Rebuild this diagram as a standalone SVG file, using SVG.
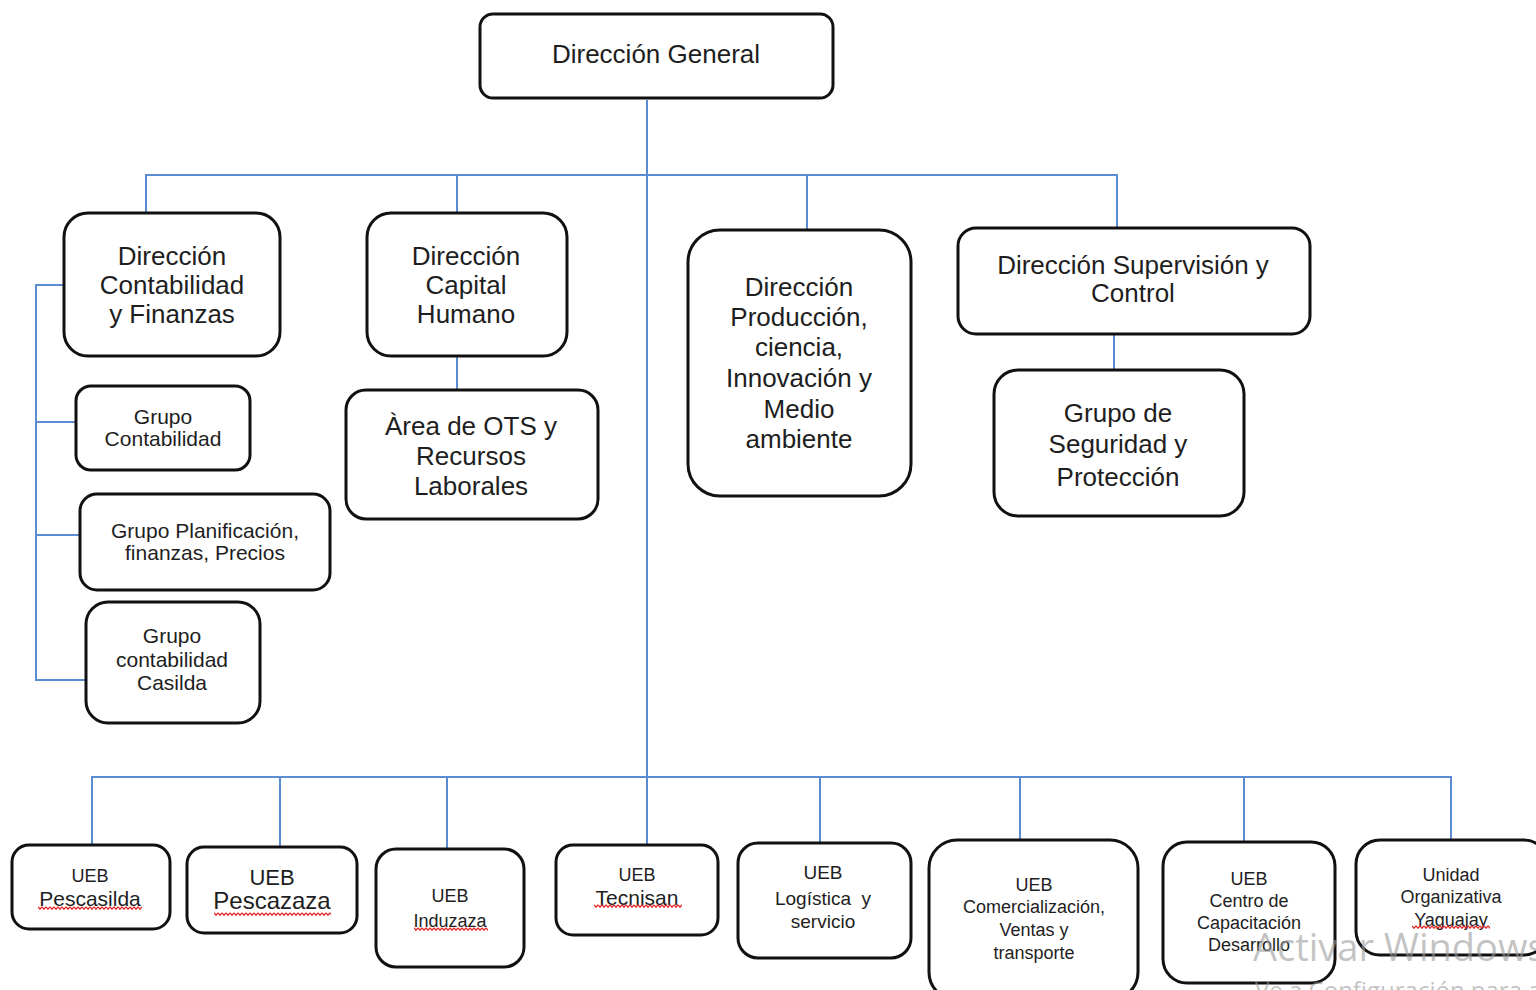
<svg xmlns="http://www.w3.org/2000/svg" width="1536" height="990" viewBox="0 0 1536 990">
  <style>
    .box { fill: #ffffff; stroke: #111111; stroke-width: 3; }
    .link { fill: none; stroke: #5b8bd0; stroke-width: 2; }
    text { font-family: "Liberation Sans", Arial, sans-serif; fill: #1e1e1e; text-anchor: middle; }
    .t26 { font-size: 26px; }
    .t21 { font-size: 21px; }
    .t18 { font-size: 18px; }
    .wm { font-family: "Open Sans", "Noto Sans", sans-serif; fill: #9a9a9a; fill-opacity: 0.6; text-anchor: start; }
  </style>
  <defs>
    <!-- spell-check wavy underline -->
    <pattern id="squiggle" width="4" height="4" patternUnits="userSpaceOnUse">
      <path d="M0 0.8 L2 3.2 L4 0.8" fill="none" stroke="#e02020" stroke-width="1.3"/>
    </pattern>
  </defs>

  <rect width="1536" height="990" fill="#ffffff"/>

  <!-- connectors -->
  <g id="connectors" class="link">
    <path d="M647 100 V845"/>
    <path d="M146 212 V175 H1117 V228"/>
    <path d="M457 175 V213"/>
    <path d="M807 175 V230"/>
    <path d="M457 357 V390"/>
    <path d="M1114 335 V370"/>
    <path d="M64 285 H36 V680 H86"/>
    <path d="M36 422 H76"/>
    <path d="M36 535 H80"/>
    <path d="M92 845 V777 H1451 V840"/>
    <path d="M280 777 V847"/>
    <path d="M447 777 V849"/>
    <path d="M820 777 V843"/>
    <path d="M1020 777 V840"/>
    <path d="M1244 777 V842"/>
  </g>

  <g id="direccion-general">
    <rect class="box" x="480" y="14" width="353" height="84" rx="13"/>
    <text class="t26" x="656" y="63">Dirección General</text>
  </g>

  <g id="dir-contabilidad">
    <rect class="box" x="64" y="213" width="216" height="143" rx="24"/>
    <text class="t26" x="172" y="265">Dirección</text>
    <text class="t26" x="172" y="294">Contabilidad</text>
    <text class="t26" x="172" y="323">y Finanzas</text>
  </g>

  <g id="grupo-contabilidad">
    <rect class="box" x="76" y="386" width="174" height="84" rx="15"/>
    <text class="t21" x="163" y="424">Grupo</text>
    <text class="t21" x="163" y="446">Contabilidad</text>
  </g>

  <g id="grupo-planificacion">
    <rect class="box" x="80" y="494" width="250" height="96" rx="17"/>
    <text class="t21" x="205" y="538">Grupo Planificación,</text>
    <text class="t21" x="205" y="560">finanzas, Precios</text>
  </g>

  <g id="grupo-casilda">
    <rect class="box" x="86" y="602" width="174" height="121" rx="22"/>
    <text class="t21" x="172" y="643">Grupo</text>
    <text class="t21" x="172" y="667">contabilidad</text>
    <text class="t21" x="172" y="690">Casilda</text>
  </g>

  <g id="dir-capital-humano">
    <rect class="box" x="367" y="213" width="200" height="143" rx="24"/>
    <text class="t26" x="466" y="265">Dirección</text>
    <text class="t26" x="466" y="294">Capital</text>
    <text class="t26" x="466" y="323">Humano</text>
  </g>

  <g id="area-ots">
    <rect class="box" x="346" y="390" width="252" height="129" rx="20"/>
    <text class="t26" x="471" y="435">Àrea de OTS y</text>
    <text class="t26" x="471" y="465">Recursos</text>
    <text class="t26" x="471" y="495">Laborales</text>
  </g>

  <g id="dir-produccion">
    <rect class="box" x="688" y="230" width="223" height="266" rx="32"/>
    <text class="t26" x="799" y="296">Dirección</text>
    <text class="t26" x="799" y="326">Producción,</text>
    <text class="t26" x="799" y="356">ciencia,</text>
    <text class="t26" x="799" y="387">Innovación y</text>
    <text class="t26" x="799" y="418">Medio</text>
    <text class="t26" x="799" y="448">ambiente</text>
  </g>

  <g id="dir-supervision">
    <rect class="box" x="958" y="228" width="352" height="106" rx="18"/>
    <text class="t26" x="1133" y="274">Dirección Supervisión y</text>
    <text class="t26" x="1133" y="302">Control</text>
  </g>

  <g id="grupo-seguridad">
    <rect class="box" x="994" y="370" width="250" height="146" rx="24"/>
    <text class="t26" x="1118" y="422">Grupo de</text>
    <text class="t26" x="1118" y="453">Seguridad y</text>
    <text class="t26" x="1118" y="486">Protección</text>
  </g>

  <!-- business units -->
  <g id="ueb-pescasilda">
    <rect class="box" x="12" y="845" width="158" height="84" rx="17"/>
    <text class="t18" x="90" y="882">UEB</text>
    <text class="t21" x="90" y="906">Pescasilda</text>
    <g transform="translate(38,906)"><rect width="104" height="4" fill="url(#squiggle)"/></g>
  </g>

  <g id="ueb-pescazaza">
    <rect class="box" x="187" y="847" width="170" height="86" rx="17"/>
    <text x="272" y="885" style="font-size:22px">UEB</text>
    <text x="272" y="909" style="font-size:24px">Pescazaza</text>
    <g transform="translate(214,912)"><rect width="117" height="4" fill="url(#squiggle)"/></g>
  </g>

  <g id="ueb-induzaza">
    <rect class="box" x="376" y="849" width="148" height="118" rx="20"/>
    <text class="t18" x="450" y="902">UEB</text>
    <text class="t18" x="450" y="927">Induzaza</text>
    <g transform="translate(414,927)"><rect width="74" height="4" fill="url(#squiggle)"/></g>
  </g>

  <g id="ueb-tecnisan">
    <rect class="box" x="556" y="845" width="162" height="90" rx="17"/>
    <text class="t18" x="637" y="881">UEB</text>
    <text class="t21" x="637" y="905">Tecnisan</text>
    <g transform="translate(594,904)"><rect width="88" height="4" fill="url(#squiggle)"/></g>
  </g>

  <g id="ueb-logistica">
    <rect class="box" x="738" y="843" width="173" height="115" rx="20"/>
    <text x="823" y="879" style="font-size:19px">UEB</text>
    <text x="823" y="905" style="font-size:19px; white-space:pre">Logística  y</text>
    <text x="823" y="928" style="font-size:19px">servicio</text>
  </g>

  <g id="ueb-comercializacion">
    <rect class="box" x="929" y="840" width="209" height="160" rx="28"/>
    <text class="t18" x="1034" y="891">UEB</text>
    <text class="t18" x="1034" y="913">Comercialización,</text>
    <text class="t18" x="1034" y="936">Ventas y</text>
    <text class="t18" x="1034" y="959">transporte</text>
  </g>

  <g id="ueb-centro-capacitacion">
    <rect class="box" x="1163" y="842" width="172" height="141" rx="24"/>
    <text class="t18" x="1249" y="885">UEB</text>
    <text class="t18" x="1249" y="907">Centro de</text>
    <text class="t18" x="1249" y="929">Capacitación</text>
    <text class="t18" x="1249" y="951">Desarrollo</text>
  </g>

  <g id="unidad-yaguajay">
    <rect class="box" x="1356" y="840" width="192" height="115" rx="24"/>
    <text class="t18" x="1451" y="881">Unidad</text>
    <text class="t18" x="1451" y="903">Organizativa</text>
    <text class="t18" x="1451" y="926">Yaguajay</text>
    <g transform="translate(1412,925)"><rect width="78" height="4" fill="url(#squiggle)"/></g>
  </g>

  <!-- system activation notice -->
  <text class="wm" x="1253" y="961" style="font-size:38px">Activar Windows</text>
  <text class="wm" x="1255" y="999" style="font-size:24px">Ve a Configuración para activar Windows.</text>
</svg>
